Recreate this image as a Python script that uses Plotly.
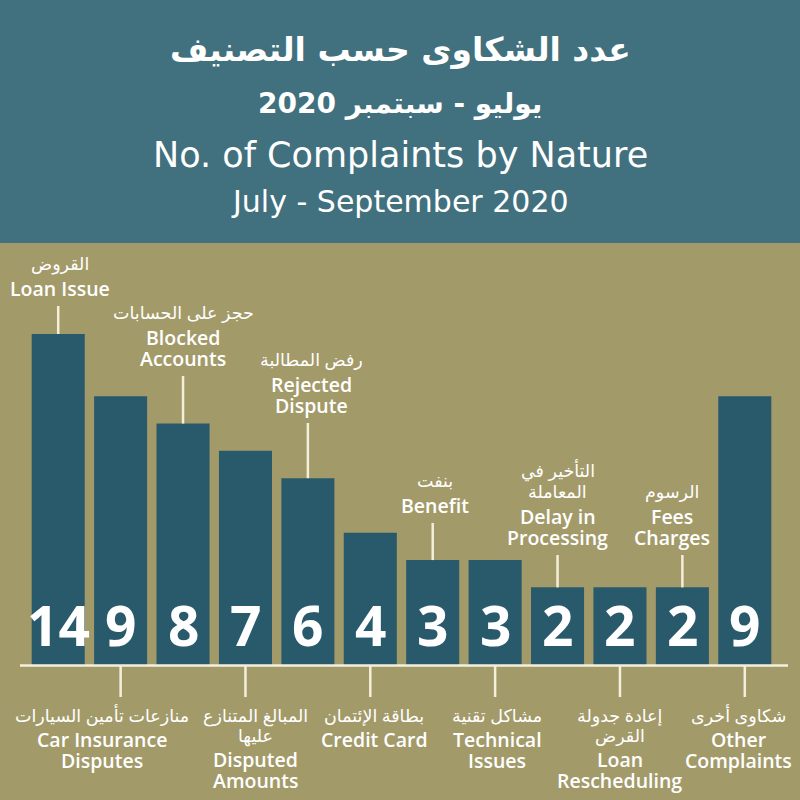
import plotly.graph_objects as go

# ---------------- data ----------------
categories_en = ["Loan Issue", "Car Insurance<br>Disputes", "Blocked<br>Accounts", "Disputed<br>Amounts",
                 "Rejected<br>Dispute", "Credit Card", "Benefit", "Technical<br>Issues",
                 "Delay in<br>Processing", "Loan<br>Rescheduling", "Fees<br>Charges", "Other<br>Complaints"]
categories_ar = ["القروض", "منازعات تأمين السيارات", "حجز على الحسابات", "المبالغ المتنازع<br>عليها",
                 "رفض المطالبة", "بطاقة الإئتمان", "بنفت", "مشاكل تقنية",
                 "التأخير في<br>المعاملة", "إعادة جدولة<br>القرض", "الرسوم", "شكاوى أخرى"]
complaints = [14, 9, 8, 7, 6, 4, 3, 3, 2, 2, 2, 9]

title_ar = "عدد الشكاوى حسب التصنيف"
period_ar = "يوليو - سبتمبر 2020"
title_en = "No. of Complaints by Nature"
period_en = "July - September 2020"

# ---------------- style / layout ----------------
W, H = 800, 800
ML, MR, MT, MB = 27, 24, 334, 134
Y_MIN, Y_MAX = -0.88, 11.28
HEADER = "#41707e"
OLIVE = "#a39a69"
BAR = "#285a6c"
LINE = "#f4efdc"
FONT = "Open Sans, DejaVu Sans, sans-serif"
HFONT = "DejaVu Sans, sans-serif"

def px(p):
    return (p - ML) / (W - ML - MR)

def py(p):
    return (H - MB - p) / (H - MT - MB)

def val_to_paper(v):
    return min(1.0, (v - Y_MIN) / (Y_MAX - Y_MIN))

idx = list(range(len(complaints)))

fig = go.Figure(go.Bar(
    x=idx, y=[v - Y_MIN for v in complaints], base=Y_MIN,
    marker=dict(color=BAR, line=dict(width=0)),
    width=0.85, hoverinfo="skip", cliponaxis=True,
))

shapes = []
annotations = []

# header band
shapes.append(dict(type="rect", xref="paper", yref="paper", x0=px(-5), x1=px(W + 5),
                   y0=py(243), y1=py(-5), fillcolor=HEADER, line=dict(width=0), layer="below"))

# baseline
shapes.append(dict(type="line", xref="paper", yref="paper", x0=px(20), x1=px(788),
                   y0=py(665.5), y1=py(665.5), line=dict(color=LINE, width=2.5), layer="above"))

# header text
for txt, yc, size, wt in [(title_ar, 50, 33, 700), (period_ar, 103, 28, 700),
                          (title_en, 155, 35, 400), (period_en, 202, 30, 400)]:
    annotations.append(dict(text=txt, xref="paper", yref="paper", x=px(400), y=py(yc),
                            xanchor="center", yanchor="middle", showarrow=False,
                            font=dict(family=HFONT, size=size, color="white", weight=wt)))

# value numbers at bar bottoms
for i, v in enumerate(complaints):
    annotations.append(dict(text=str(v), x=i, xref="x", yref="paper", y=py(624),
                            xanchor="center", yanchor="middle", showarrow=False,
                            font=dict(family=FONT, size=55, color="white", weight=700)))

# label placement (pixel positions of text lines) — layout only
above_tick_top = {0: 306, 2: 376, 4: 423, 6: 523, 8: 555, 10: 555}
label_x_shift = {0: 2, 1: -19, 2: 0, 3: 10, 4: 4, 5: 4, 6: 2, 7: 2, 8: 0, 9: 0, 10: -10, 11: -6}

AR_SIZE, EN_SIZE = 17.5, 19.5
AR_STEP, EN_STEP, GAP = 21, 21, 25

for i in idx:
    ar_lines = categories_ar[i].split("<br>")
    en_lines = categories_en[i].split("<br>")
    xs = label_x_shift[i]
    if i in above_tick_top:
        top = above_tick_top[i]
        bar_top_paper = val_to_paper(complaints[i])
        shapes.append(dict(type="line", xref="x", yref="paper", x0=i, x1=i,
                           y0=bar_top_paper, y1=py(top), line=dict(color=LINE, width=2.5)))
        y_lines = []
        yc = top - 18
        for ln in reversed(en_lines):
            y_lines.append((ln, yc, EN_SIZE, 600))
            yc -= EN_STEP
        yc = yc + EN_STEP - GAP
        for ln in reversed(ar_lines):
            y_lines.append((ln, yc, AR_SIZE, 500))
            yc -= AR_STEP
    else:
        shapes.append(dict(type="line", xref="x", yref="paper", x0=i, x1=i,
                           y0=py(666), y1=py(697), line=dict(color=LINE, width=2.5)))
        y_lines = []
        yc = 715
        for ln in ar_lines:
            y_lines.append((ln, yc, AR_SIZE, 500))
            yc += AR_STEP - 1
        yc = yc - (AR_STEP - 1) + GAP - 1
        for ln in en_lines:
            y_lines.append((ln, yc, EN_SIZE, 600))
            yc += EN_STEP
    for ln, yc, size, wt in y_lines:
        annotations.append(dict(text=ln, x=i, xref="x", yref="paper", y=py(yc), xshift=xs,
                                xanchor="center", yanchor="middle", showarrow=False,
                                font=dict(family=FONT, size=size, color="white", weight=wt)))

fig.update_layout(
    width=W, height=H, autosize=False,
    margin=dict(l=ML, r=MR, t=MT, b=MB, pad=0),
    paper_bgcolor=OLIVE, plot_bgcolor=OLIVE,
    bargap=0.15, showlegend=False,
    xaxis=dict(range=[-0.5, len(complaints) - 0.5], visible=False, fixedrange=True),
    yaxis=dict(range=[Y_MIN, Y_MAX], visible=False, fixedrange=True),
    shapes=shapes, annotations=annotations,
)

fig.write_html("out.html", config={"displayModeBar": False})
